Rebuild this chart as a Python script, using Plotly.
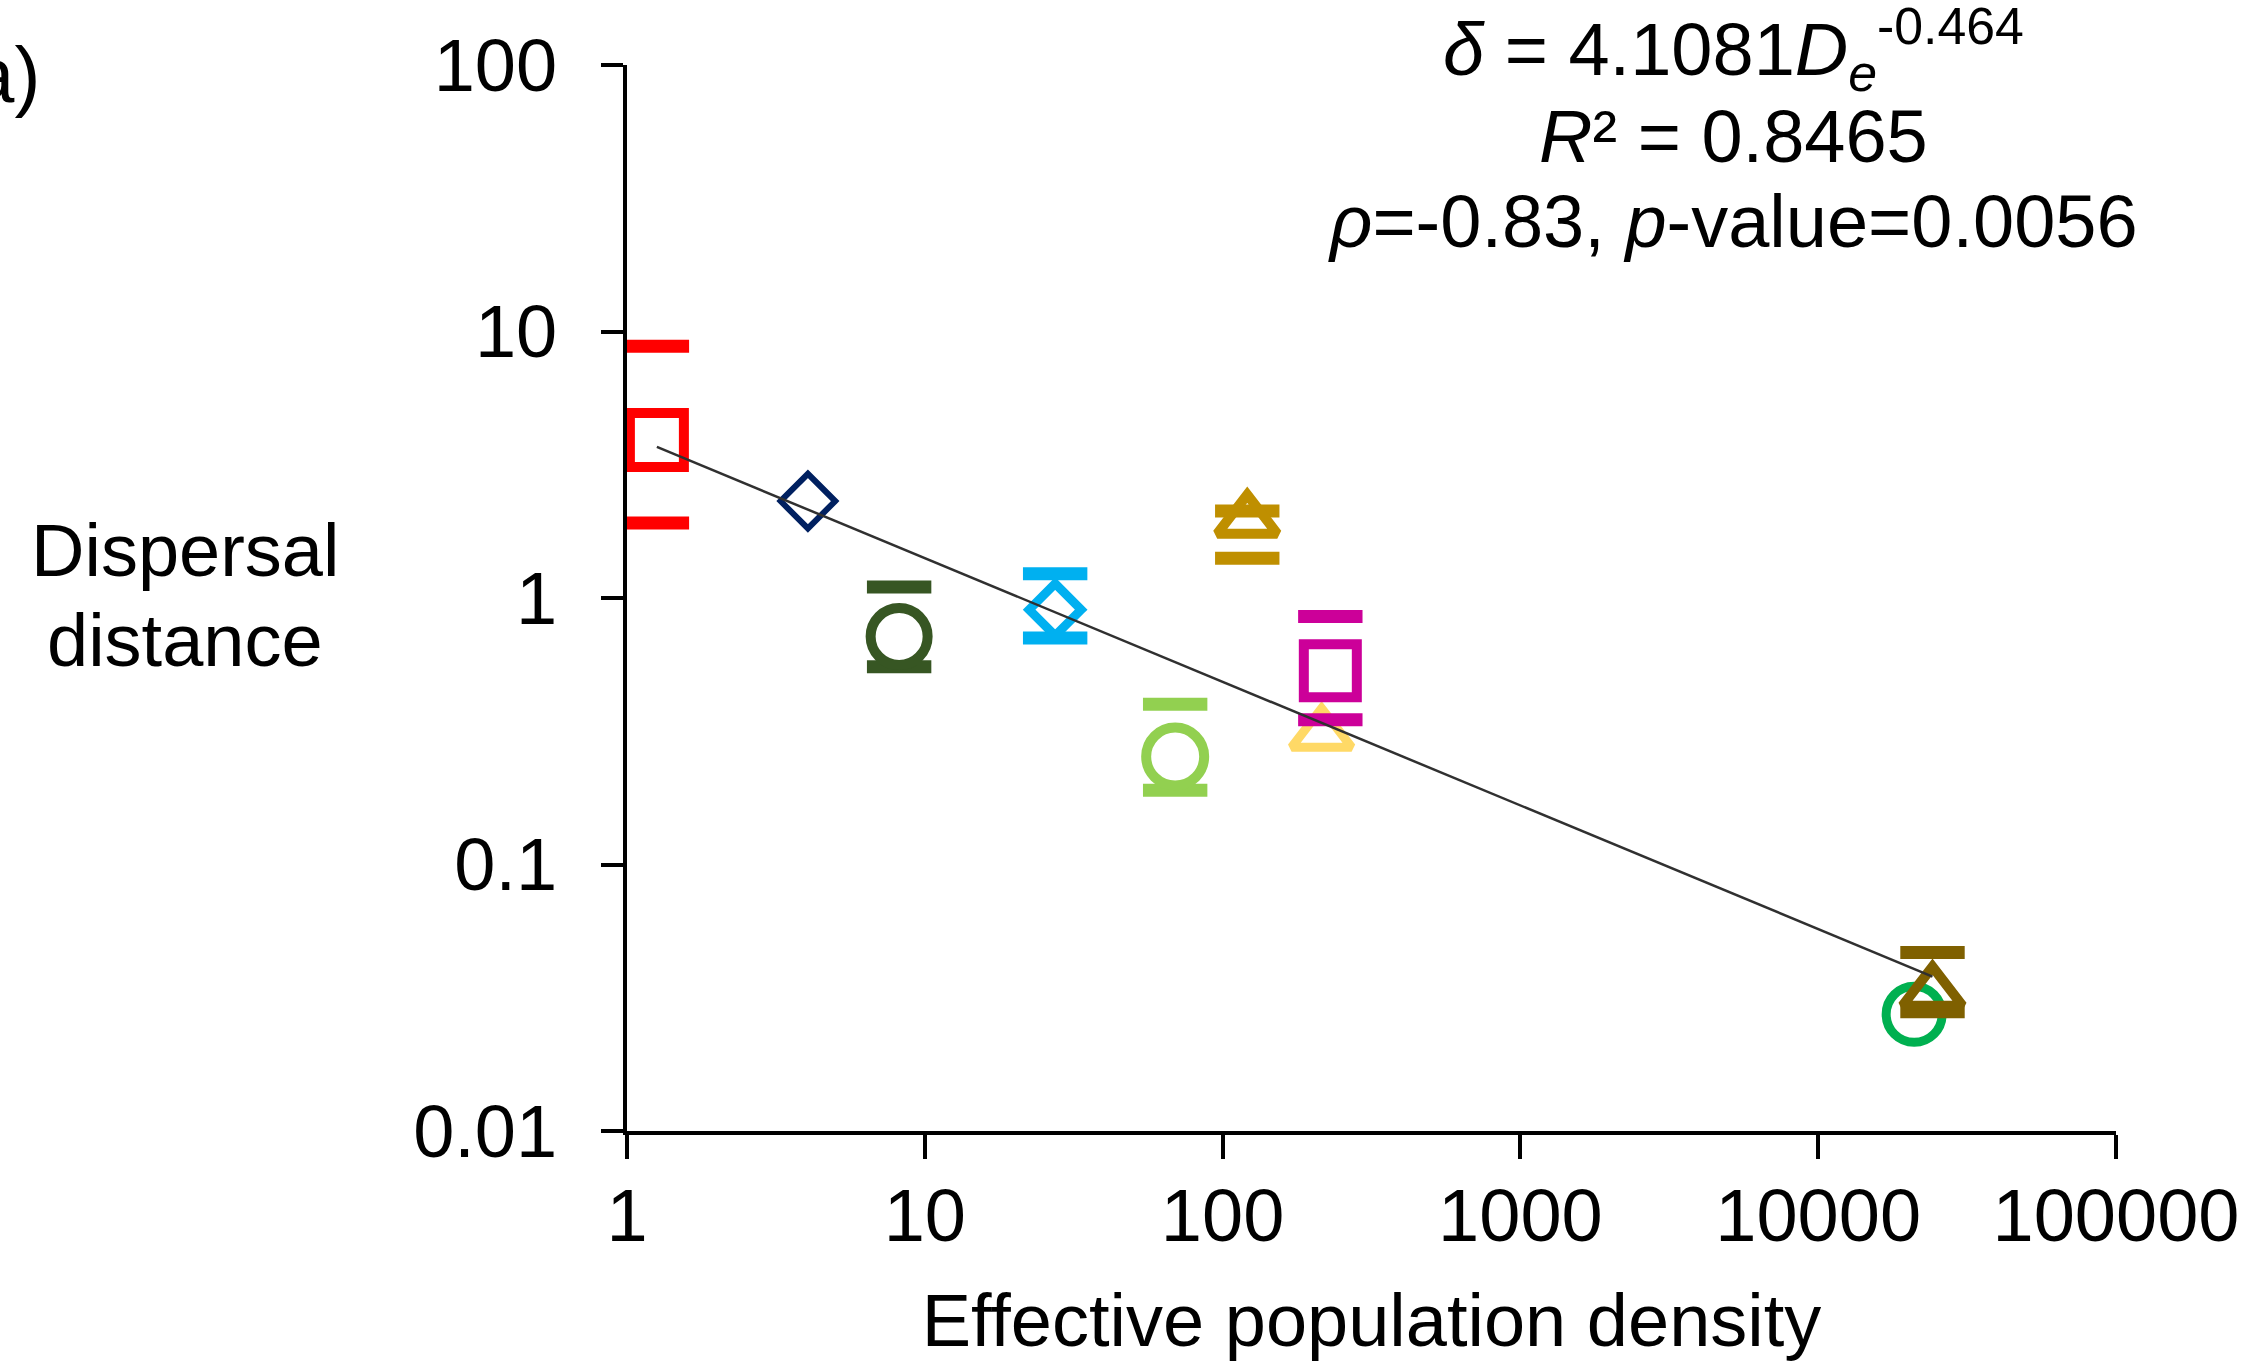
import plotly.graph_objects as go

# ---- data ----
density = [1.26, 4.05, 8.2, 27.4, 69.3, 121, 215, 230, 21000, 24200]
dispersal = [3.92, 2.31, 0.717, 0.904, 0.254, 1.95, 0.308, 0.533, 0.0274, 0.033]
upper = [8.81, None, 1.10, 1.232, 0.399, 2.12, None, 0.852, None, 0.0468]
lower = [1.91, None, 0.552, 0.708, 0.190, 1.41, None, 0.349, None, 0.028]

fit_a = 4.1081
fit_b = -0.464

x_ticks = [1, 10, 100, 1000, 10000, 100000]
x_ticktext = ["1", "10", "100", "1000", "10000", "100000"]
y_ticks = [0.01, 0.1, 1, 10, 100]
y_ticktext = ["0.01", "0.1", "1", "10", "100"]

# ---- styles ----
colors = ["#FF0000", "#002060", "#375623", "#00B0F0", "#92D050",
          "#BF8F00", "#FFD966", "#CC0099", "#00B050", "#7F6000"]
symbols = ["square-open", "diamond-open", "circle-open", "diamond-open", "circle-open",
           "triangle-up-open", "triangle-up-open", "square-open", "circle-open", "triangle-up-open"]
sizes = [54, 42, 57, 40, 58, 52, 52, 53, 56, 52]
lws = [10, 6, 10, 9, 10, 10, 9, 10, 9, 10]

FONT = "Liberation Sans, Arial, sans-serif"
FS = 74

fig = go.Figure()

for i in range(len(density)):
    if upper[i] is not None:
        fig.add_trace(go.Scatter(
            x=[density[i], density[i]], y=[upper[i], lower[i]], mode="markers",
            marker=dict(symbol="line-ew", size=46, color=colors[i],
                        line=dict(color=colors[i], width=13)),
            showlegend=False, hoverinfo="skip"))
    fig.add_trace(go.Scatter(
        x=[density[i]], y=[dispersal[i]], mode="markers",
        marker=dict(symbol=symbols[i], size=sizes[i], color=colors[i],
                    line=dict(color=colors[i], width=lws[i])),
        showlegend=False))

xmin, xmax = min(density), max(density)
fig.add_trace(go.Scatter(
    x=[xmin, xmax], y=[fit_a * xmin ** fit_b, fit_a * xmax ** fit_b],
    mode="lines", line=dict(color="#303030", width=2.5), showlegend=False))

W, H = 2254, 1363
L, R, T, B = 627, 138, 65, 232
pw, ph = W - L - R, H - T - B


def px(xp):
    return (xp - L) / pw


def py(yp):
    return (H - B - yp) / ph


fig.update_layout(
    width=W, height=H,
    margin=dict(l=L, r=R, t=T, b=B, autoexpand=False),
    paper_bgcolor="white", plot_bgcolor="white",
    font=dict(family=FONT, size=FS, color="black"),
    xaxis=dict(type="log", range=[0, 5], tickvals=x_ticks, ticktext=x_ticktext,
               showgrid=False, zeroline=False, showline=True, linecolor="black",
               linewidth=4, ticks="outside", ticklen=24, tickwidth=4, tickcolor="black",
               ticklabelstandoff=-7,
               title=dict(text="Effective population density", standoff=39,
                          font=dict(family=FONT, size=FS))),
    yaxis=dict(type="log", range=[-2, 2], tickvals=y_ticks, ticktext=y_ticktext,
               showgrid=False, zeroline=False, showline=True, linecolor="black",
               linewidth=4, ticks="outside", ticklen=22, tickwidth=4, tickcolor="black",
               ticklabelstandoff=29),
)

ann = [
    ("Dispersal", 185, 550),
    ("distance", 185, 640),
]
for t, xx, yy in ann:
    fig.add_annotation(text=t, x=px(xx), y=py(yy), xref="paper", yref="paper",
                       xanchor="center", yanchor="middle", showarrow=False,
                       font=dict(family=FONT, size=FS))

fig.add_annotation(text="<i>δ</i> = 4.1081<i>D</i><sub><i>e</i></sub><sup>-0.464</sup>",
                   x=px(1733), y=py(50), xref="paper", yref="paper",
                   xanchor="center", yanchor="middle", showarrow=False,
                   font=dict(family=FONT, size=FS))
fig.add_annotation(text="<i>R</i>² = 0.8465",
                   x=px(1733), y=py(136), xref="paper", yref="paper",
                   xanchor="center", yanchor="middle", showarrow=False,
                   font=dict(family=FONT, size=FS))
fig.add_annotation(text="<i>ρ</i>=-0.83, <i>p</i>-value=0.0056",
                   x=px(1733), y=py(221), xref="paper", yref="paper",
                   xanchor="center", yanchor="middle", showarrow=False,
                   font=dict(family=FONT, size=FS))
fig.add_annotation(text="a)", x=px(42), y=py(75), xref="paper", yref="paper",
                   xanchor="right", yanchor="middle", showarrow=False,
                   font=dict(family=FONT, size=78))

fig.write_html("out.html", config={"displayModeBar": False},
               post_script="document.body.style.margin='0px';")
